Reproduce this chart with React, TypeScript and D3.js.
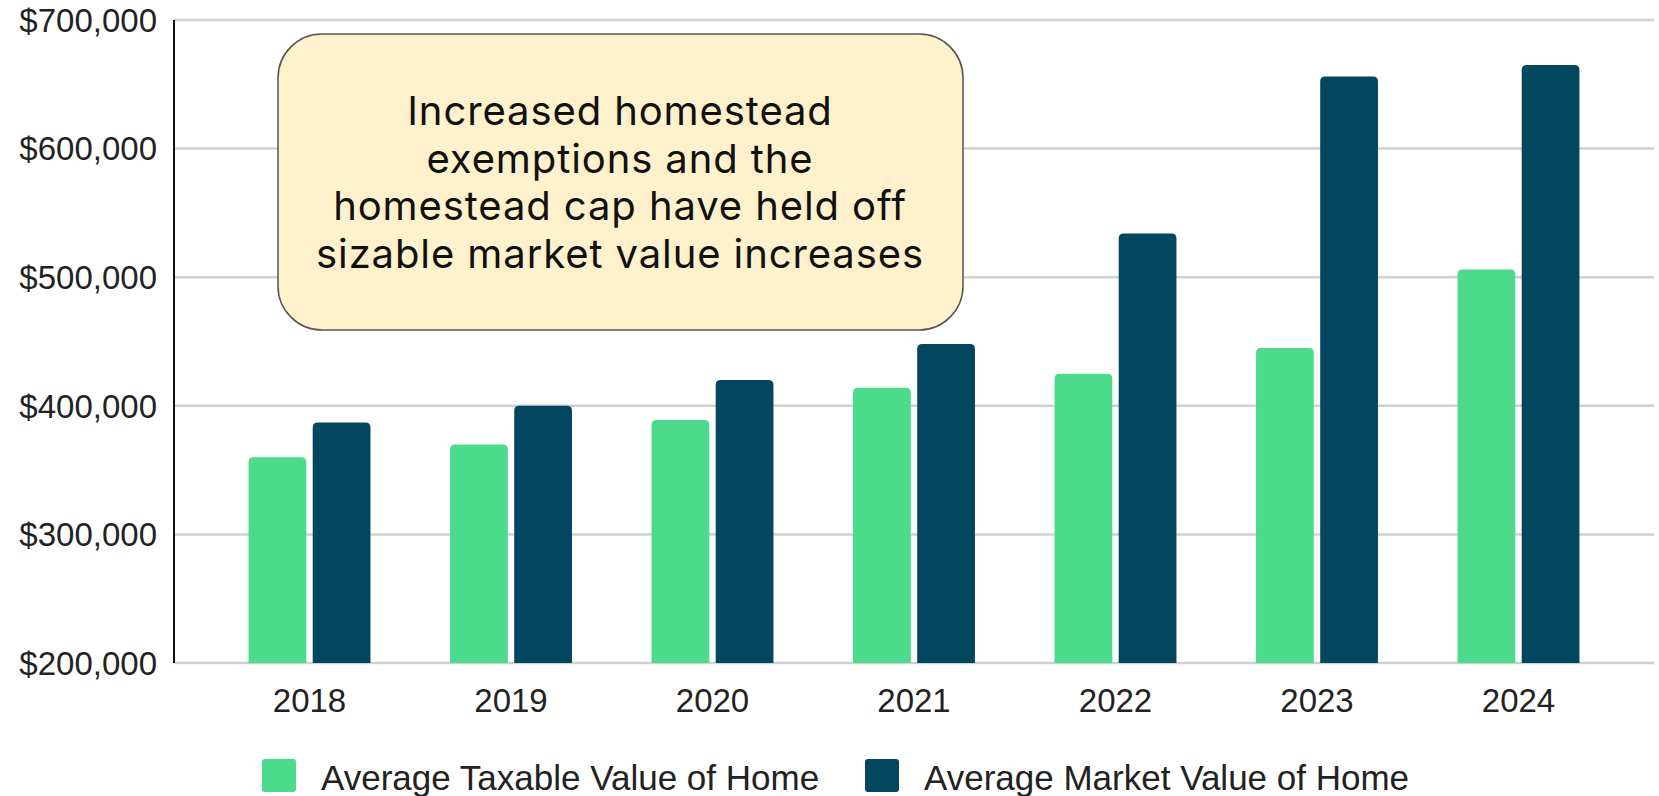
import React, { useEffect, useRef } from "react";
import * as d3 from "d3";

// chart data
const years = ["2018", "2019", "2020", "2021", "2022", "2023", "2024"];
const taxableValues = [360000, 370000, 389000, 414000, 425000, 445000, 506000];
const marketValues = [387000, 400000, 420000, 448000, 534000, 656000, 665000];
const seriesNames = ["Average Taxable Value of Home", "Average Market Value of Home"];
const seriesColors = ["#4cda8b", "#03465f"];
const yTicks = [200000, 300000, 400000, 500000, 600000, 700000];
const noteLines = [
  "Increased homestead",
  "exemptions and the",
  "homestead cap have held off",
  "sizable market value increases",
];

// rounded-top bar path
const barPath = (x, y, w, h, r) => {
  const rr = Math.min(r, w / 2, h);
  return `M${x},${y + h}V${y + rr}Q${x},${y} ${x + rr},${y}H${x + w - rr}Q${x + w},${y} ${x + w},${y + rr}V${y + h}Z`;
};

const App = () => {
  const ref = useRef(null);

  const W = 1659;
  const H = 796;
  const margin = { top: 20, right: 5, bottom: 133, left: 174 };

  useEffect(() => {
    document.body.style.margin = "0";
    const svg = d3.select(ref.current);
    svg.selectAll("*").remove();

    const x0 = d3
      .scaleBand()
      .domain(years)
      .range([margin.left, W - margin.right])
      .paddingInner(0.395)
      .paddingOuter(0.37);

    const x1 = d3
      .scaleBand()
      .domain(["taxable", "market"])
      .range([0, x0.bandwidth()])
      .paddingInner(0.1);

    const y = d3
      .scaleLinear()
      .domain([200000, 700000])
      .range([H - margin.bottom, margin.top]);

    const fmt = (v) => "$" + d3.format(",")(v);

    // gridlines
    svg
      .append("g")
      .selectAll("line")
      .data(yTicks)
      .enter()
      .append("line")
      .attr("x1", margin.left)
      .attr("x2", W - margin.right)
      .attr("y1", (d) => y(d))
      .attr("y2", (d) => y(d))
      .attr("stroke", "#d0d0d0")
      .attr("stroke-width", 2.5);

    // y labels
    svg
      .append("g")
      .selectAll("text")
      .data(yTicks)
      .enter()
      .append("text")
      .attr("x", margin.left - 17)
      .attr("y", (d) => y(d))
      .attr("dy", "0.36em")
      .attr("text-anchor", "end")
      .style("font-family", "'Liberation Sans', Arial, sans-serif")
      .style("font-size", "33px")
      .attr("fill", "#222")
      .text(fmt);

    // left axis line
    svg
      .append("line")
      .attr("x1", margin.left)
      .attr("x2", margin.left)
      .attr("y1", y(700000))
      .attr("y2", y(200000))
      .attr("stroke", "#111")
      .attr("stroke-width", 2);

    // bars
    const data = years.map((yr, i) => ({
      year: yr,
      vals: [
        { key: "taxable", v: taxableValues[i], c: seriesColors[0] },
        { key: "market", v: marketValues[i], c: seriesColors[1] },
      ],
    }));

    svg
      .append("g")
      .selectAll("g")
      .data(data)
      .enter()
      .append("g")
      .attr("transform", (d) => `translate(${x0(d.year)},0)`)
      .selectAll("path")
      .data((d) => d.vals)
      .enter()
      .append("path")
      .attr("d", (d) =>
        barPath(x1(d.key), y(d.v), x1.bandwidth(), y(200000) - y(d.v), 5)
      )
      .attr("fill", (d) => d.c);

    // x labels
    svg
      .append("g")
      .selectAll("text")
      .data(years)
      .enter()
      .append("text")
      .attr("x", (d) => x0(d) + x0.bandwidth() / 2)
      .attr("y", 712)
      .attr("text-anchor", "middle")
      .style("font-family", "'Liberation Sans', Arial, sans-serif")
      .style("font-size", "33px")
      .attr("fill", "#222")
      .text((d) => d);

    // annotation box
    const note = svg.append("g");
    note
      .append("rect")
      .attr("x", 278)
      .attr("y", 34)
      .attr("width", 685)
      .attr("height", 296)
      .attr("rx", 44)
      .attr("fill", "#fef1cc")
      .attr("stroke", "#555")
      .attr("stroke-width", 1.5);

    note
      .selectAll("text")
      .data(noteLines)
      .enter()
      .append("text")
      .attr("x", 620)
      .attr("y", (d, i) => 125 + i * 47.5)
      .attr("text-anchor", "middle")
      .style("font-family", "Inter, 'Noto Sans', sans-serif")
      .style("font-size", "40px")
      .style("letter-spacing", "0.9px")
      .attr("fill", "#111")
      .text((d) => d);

    // legend
    const legendX = [262, 865];
    const legend = svg
      .append("g")
      .selectAll("g")
      .data(seriesNames)
      .enter()
      .append("g")
      .attr("transform", (d, i) => `translate(${legendX[i]},759)`);

    legend
      .append("rect")
      .attr("width", 34)
      .attr("height", 33)
      .attr("rx", 3)
      .attr("fill", (d, i) => seriesColors[i]);

    legend
      .append("text")
      .attr("x", 59)
      .attr("y", 31)
      .style("font-family", "'Liberation Sans', Arial, sans-serif")
      .style("font-size", "35px")
      .attr("fill", "#222")
      .text((d) => d);
  }, []);

  return (
    <svg
      ref={ref}
      width={W}
      height={H}
      style={{ position: "absolute", left: 0, top: 0, background: "#fff" }}
    />
  );
};

export default App;
